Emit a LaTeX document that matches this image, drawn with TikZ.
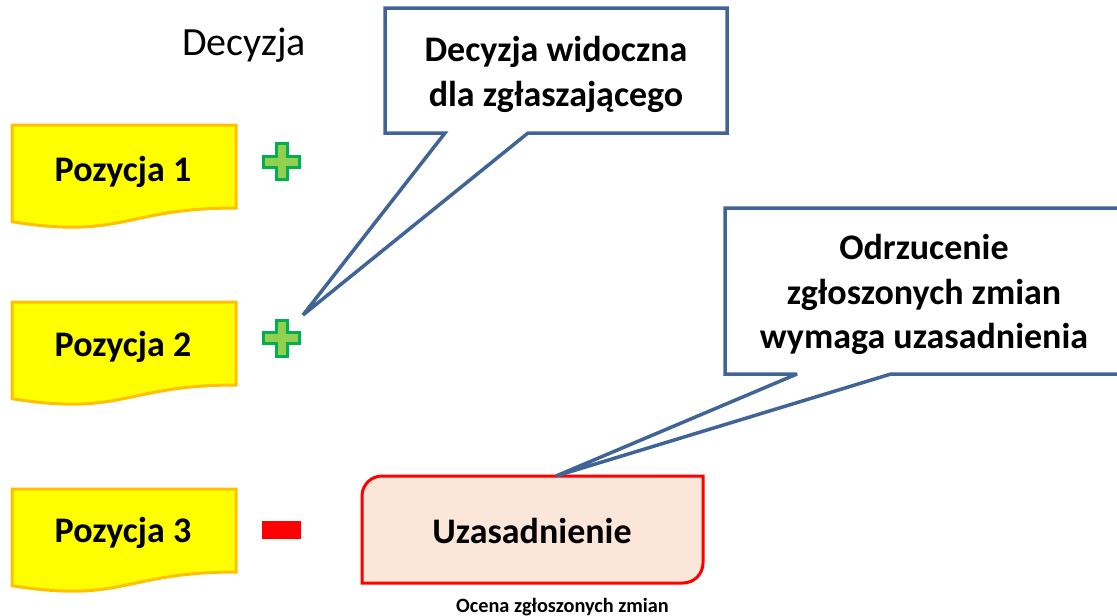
\documentclass[tikz,border=0pt]{standalone}
\usepackage{fontspec}
\setmainfont{Carlito}
\definecolor{docfill}{RGB}{255,255,0}
\definecolor{docline}{RGB}{255,192,0}
\definecolor{plusfill}{RGB}{146,208,80}
\definecolor{plusline}{RGB}{0,176,80}
\definecolor{calloutline}{RGB}{65,100,150}
\definecolor{justfill}{RGB}{251,231,218}
\definecolor{justline}{RGB}{255,0,0}
\definecolor{minusred}{RGB}{255,0,0}
\tikzset{
  docstyle/.style={draw=docline, fill=docfill, line width=3pt, line join=miter},
  docpic/.pic={\path[docstyle] (0,0) -- (224,0) -- (224,83) .. controls (112,83) and (112,114.6) .. (0,96.7) -- cycle;},
  plusstyle/.style={draw=plusline, fill=plusfill, line width=3pt, line join=miter},
  pluspic/.pic={\path[plusstyle] (-5.5,-18) -- (5.5,-18) -- (5.5,-5.5) -- (18,-5.5) -- (18,5.5) -- (5.5,5.5) -- (5.5,18) -- (-5.5,18) -- (-5.5,5.5) -- (-18,5.5) -- (-18,-5.5) -- (-5.5,-5.5) -- cycle;},
  calloutstyle/.style={draw=calloutline, fill=white, line width=3.5pt, line join=miter, miter limit=4},
  bigtext/.style={font=\bfseries\fontsize{36}{44.5}\selectfont, inner sep=0pt, align=center},
  postext/.style={font=\bfseries\fontsize{36}{44}\selectfont, inner sep=0pt, anchor=base},
  headtext/.style={font=\fontsize{40}{48}\selectfont, inner sep=0pt, anchor=base},
  smalltext/.style={font=\bfseries\fontsize{20.3}{24}\selectfont, inner sep=0pt, anchor=base},
}
\begin{document}
\begin{tikzpicture}[x=1pt,y=-1pt]
\useasboundingbox (0,0) rectangle (1117,616);
\clip (0,0) rectangle (1117,616);
% heading
\node[headtext] (head) at (244,55) {Decyzja};
% documents
\pic at (12,125) {docpic};
\pic at (12,302) {docpic};
\pic at (12,489) {docpic};
\node[postext] (p1) at (123,181) {Pozycja 1};
\node[postext] (p2) at (123,356) {Pozycja 2};
\node[postext] (p3) at (123,542) {Pozycja 3};
% marks
\pic at (281.5,161.5) {pluspic};
\pic at (281.5,338) {pluspic};
\fill[minusred] (262,521) rectangle (301,539);
% justification box
\path[draw=justline, fill=justfill, line width=3pt]
  (362,496) arc[start angle=180, end angle=270, radius=20] -- (703,476) -- (703,563)
  arc[start angle=0, end angle=90, radius=20] -- (362,583) -- cycle;
\node[postext] (just) at (532,543) {Uzasadnienie};
\node[smalltext] (ocena) at (562.5,612) {Ocena zgłoszonych zmian};
% callout 1
\coordinate (tip1) at (303,315);
\path[calloutstyle] (385,8) -- (727,8) -- (727,133) -- (528,133) -- (tip1) -- (445,133) -- (385,133) -- cycle;
\node[bigtext] (c1) at (556,74.5) {Decyzja widoczna\\dla zgłaszającego};
% callout 2
\coordinate (tip2) at (556,476);
\path[calloutstyle] (725,208) -- (1130,208) -- (1130,374) -- (891,374) -- (tip2) -- (797,374) -- (725,374) -- cycle;
\node[bigtext] (c2) at (924,294.5) {Odrzucenie\\zgłoszonych zmian\\wymaga uzasadnienia};
\end{tikzpicture}
\end{document}
